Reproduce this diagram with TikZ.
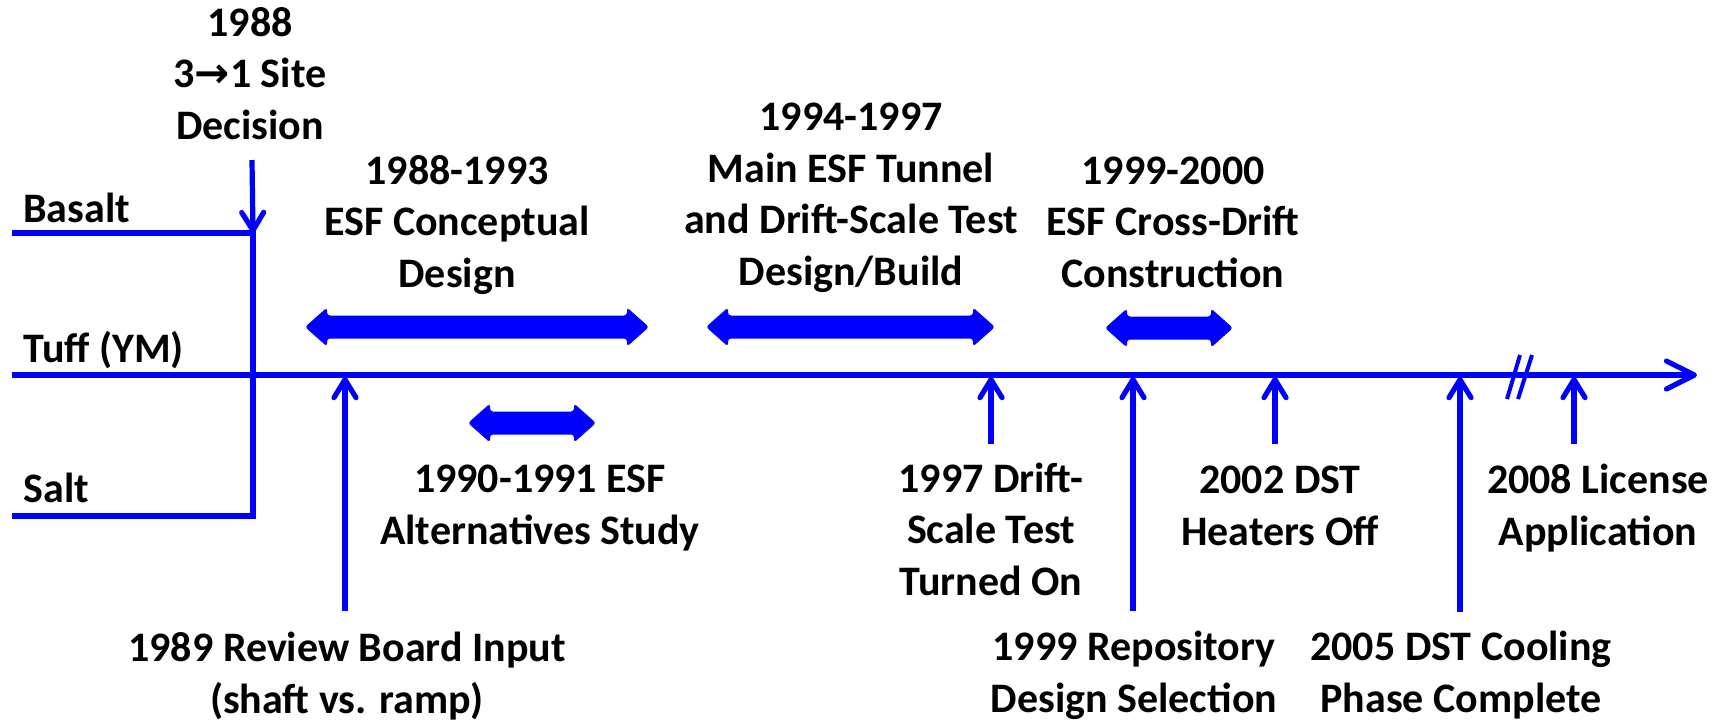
\documentclass[tikz,border=0pt]{standalone}
\usepackage{fontspec}
\setmainfont{Carlito}
\newfontfamily\arrowfont{DejaVu Sans}
\usetikzlibrary{arrows.meta,calc}

% wide two-headed span arrow between two named coordinates
\newcommand{\spanarr}[2]{%
  \fill[spanfill] (#1) -- ++(22,-19.5) -- ++(0,8) -- ($(#2)+(-22,-11.5)$)
    -- ++(0,-8) -- (#2) -- ++(-22,19.5) -- ++(0,-8) -- ($(#1)+(22,11.5)$)
    -- ++(0,8) -- cycle;}

\begin{document}
\begin{tikzpicture}[x=0.5pt,y=-0.5pt,
  every node/.style={inner sep=0pt, font=\bfseries\fontsize{21}{25.75}\selectfont},
  lbl/.style={align=center, anchor=base},
  rock/.style={anchor=base west},
  track/.style={draw=blue, line width=2.6pt},
  tick/.style={draw=blue, line width=2.6pt,
    -{Straight Barb[length=9pt,width=11pt,round]}},
  mainline/.style={draw=blue, line width=2.6pt,
    -{Straight Barb[length=14pt,width=14pt,round]}},
  breakmark/.style={draw=blue, line width=2pt},
  spanfill/.style={fill=blue, rounded corners=1.5pt}]

\useasboundingbox (0,0) rectangle (1727,724);

% rock-type tracks
\node[rock] (basalt) at (23,222) {Basalt};
\node[rock] (tuff) at (23,362) {Tuff (YM)};
\node[rock] (salt) at (23,502) {Salt};

\coordinate (bL) at (12,233);
\coordinate (bR) at (253,233);
\coordinate (sL) at (12,516);
\coordinate (sR) at (253,516);
\coordinate (tL) at (12,375);
\coordinate (tR) at (1697,375);
\draw[track, line join=miter] (bL) -- (bR) -- (sR) -- (sL);
\draw[mainline] (tL) -- (tR);

% axis break
\coordinate (k1a) at (1507,399); \coordinate (k1b) at (1520,355);
\coordinate (k2a) at (1518,399); \coordinate (k2b) at (1532,355);
\draw[breakmark] (k1a) -- (k1b);
\draw[breakmark] (k2a) -- (k2b);

% site decision (node base = last line's baseline)
\node[lbl] (site) at (250,139) {1988\\3{\arrowfont→}1 Site\\Decision};
\coordinate (siteTop) at (252,160);
\draw[tick] (siteTop) -- (bR);

% period labels and span arrows
\node[lbl] (concept) at (457,287) {1988-1993\\ESF Conceptual\\Design};
\node[lbl] (tunnel) at (851,285) {1994-1997\\Main ESF Tunnel\\and Drift-Scale Test\\Design/Build};
\node[lbl] (cross) at (1173,287) {1999-2000\\ESF Cross-Drift\\Construction};
\node[lbl] (alt) at (540,544) {1990-1991 ESF\\Alternatives Study};

\coordinate (s1l) at (305,327); \coordinate (s1r) at (649,327);
\coordinate (s2l) at (468,423); \coordinate (s2r) at (596,423);
\coordinate (s3l) at (706,327); \coordinate (s3r) at (995,327);
\coordinate (s4l) at (1105,328); \coordinate (s4r) at (1233,328);
\spanarr{s1l}{s1r}
\spanarr{s2l}{s2r}
\spanarr{s3l}{s3r}
\spanarr{s4l}{s4r}

% events below the axis
\node[lbl] (review) at (347,713) {1989 Review Board Input\\(shaft vs. ramp)};
\node[lbl] (dston) at (991,595) {1997 Drift-\\Scale Test\\Turned On};
\node[lbl] (repo) at (1134,712) {1999 Repository\\Design Selection};
\node[lbl] (heat) at (1280,545) {2002 DST\\Heaters Off};
\node[lbl] (cool) at (1461,712) {2005 DST Cooling\\Phase Complete};
\node[lbl] (lic) at (1598,545) {2008 License\\Application};

\coordinate (e89b) at (345,611);  \coordinate (e89t) at (345,377);
\coordinate (e97b) at (991,444);  \coordinate (e97t) at (991,377);
\coordinate (e99b) at (1133,611); \coordinate (e99t) at (1133,377);
\coordinate (e02b) at (1275,444); \coordinate (e02t) at (1275,377);
\coordinate (e05b) at (1460,612); \coordinate (e05t) at (1460,377);
\coordinate (e08b) at (1574,444); \coordinate (e08t) at (1574,377);
\draw[tick] (e89b) -- (e89t);
\draw[tick] (e97b) -- (e97t);
\draw[tick] (e99b) -- (e99t);
\draw[tick] (e02b) -- (e02t);
\draw[tick] (e05b) -- (e05t);
\draw[tick] (e08b) -- (e08t);
\end{tikzpicture}
\end{document}
